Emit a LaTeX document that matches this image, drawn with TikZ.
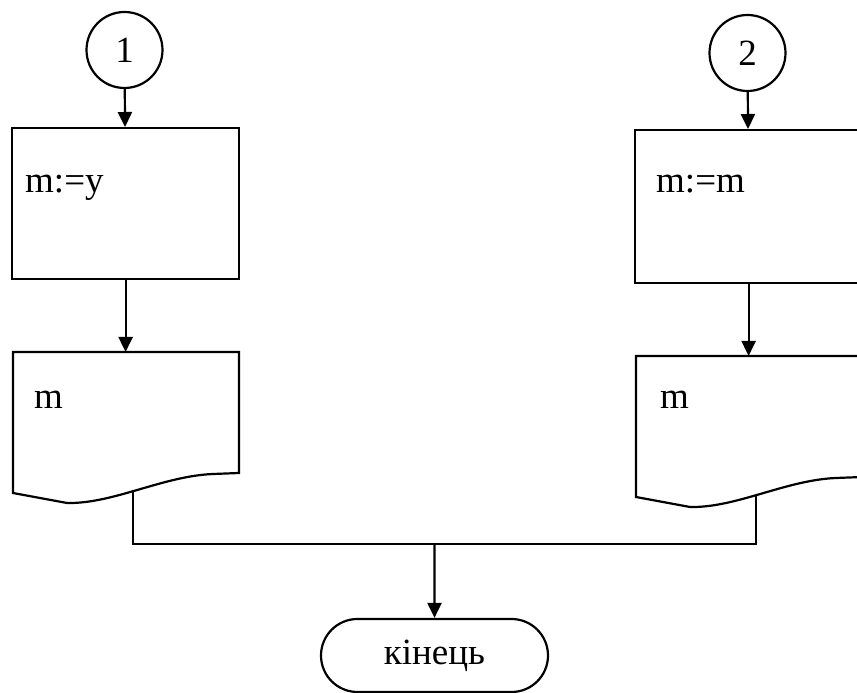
\documentclass[tikz,border=0pt]{standalone}
\usepackage{fontspec}
\setmainfont{Liberation Serif}
\usetikzlibrary{shapes.misc,arrows.meta}
\tikzset{
  bline/.style={line width=2.2pt},
  arr/.style={bline,-{Triangle[length=15pt,width=14pt]}},
  txt/.style={font=\fontsize{37}{44}\selectfont,inner sep=0pt},
  conn/.style={draw,bline,circle,minimum size=76pt,txt},
  proc/.style={draw,bline,minimum width=227pt,txt},
  docnode/.style={minimum width=226pt,minimum height=141pt,inner sep=0pt},
  term/.style={draw,bline,rounded rectangle,minimum width=227pt,minimum height=73pt,txt}
}
\begin{document}
\begin{tikzpicture}[x=1pt,y=1pt]
 \useasboundingbox (0,0) rectangle (857,693);
 \node[conn] (c1) at (124.5,643) {1};
 \node[conn] (c2) at (747.5,640) {2};
 \node[proc,minimum height=151pt,anchor=north west] (r1) at (11,566) {};
 \node[proc,minimum height=153pt,anchor=north west] (r2) at (634,564) {};
 \node[txt,anchor=base west] at ([shift={(14,-66)}]r1.north west) {m:=y};
 \node[txt,anchor=base west] at ([shift={(22,-64)}]r2.north west) {m:=m};
 \node[docnode,anchor=north west] (d1) at (13,341) {};
 \node[docnode,anchor=north west] (d2) at (636,337) {};
 \node[txt,anchor=base west] at ([shift={(21,-57)}]d1.north west) {m};
 \node[txt,anchor=base west] at ([shift={(24,-53)}]d2.north west) {m};
 \foreach \n in {d1,d2}{
  \begin{scope}[shift={(\n.north west)}]
   \draw[bline] (0,0) -- (226,0) -- (226,-121) -- (200,-122) .. controls (150,-124) and (100,-152) .. (54,-151) -- (0,-141) -- cycle;
   \coordinate (\n-out) at (120,-139);
  \end{scope}
 }
 \coordinate (jn) at (434.5,149);
 \node[term] (end) at (434.5,37.5) {кінець};
 \draw[arr] (c1) -- (r1);
 \draw[arr] (c2) -- (r2);
 \draw[arr] (r1.south) -- (r1.south |- d1.north);
 \draw[arr] (r2.south) -- (r2.south |- d2.north);
 \draw[bline] (d1-out) |- (jn) -| (d2-out);
 \draw[arr] (jn) -- (end);
\end{tikzpicture}
\end{document}
